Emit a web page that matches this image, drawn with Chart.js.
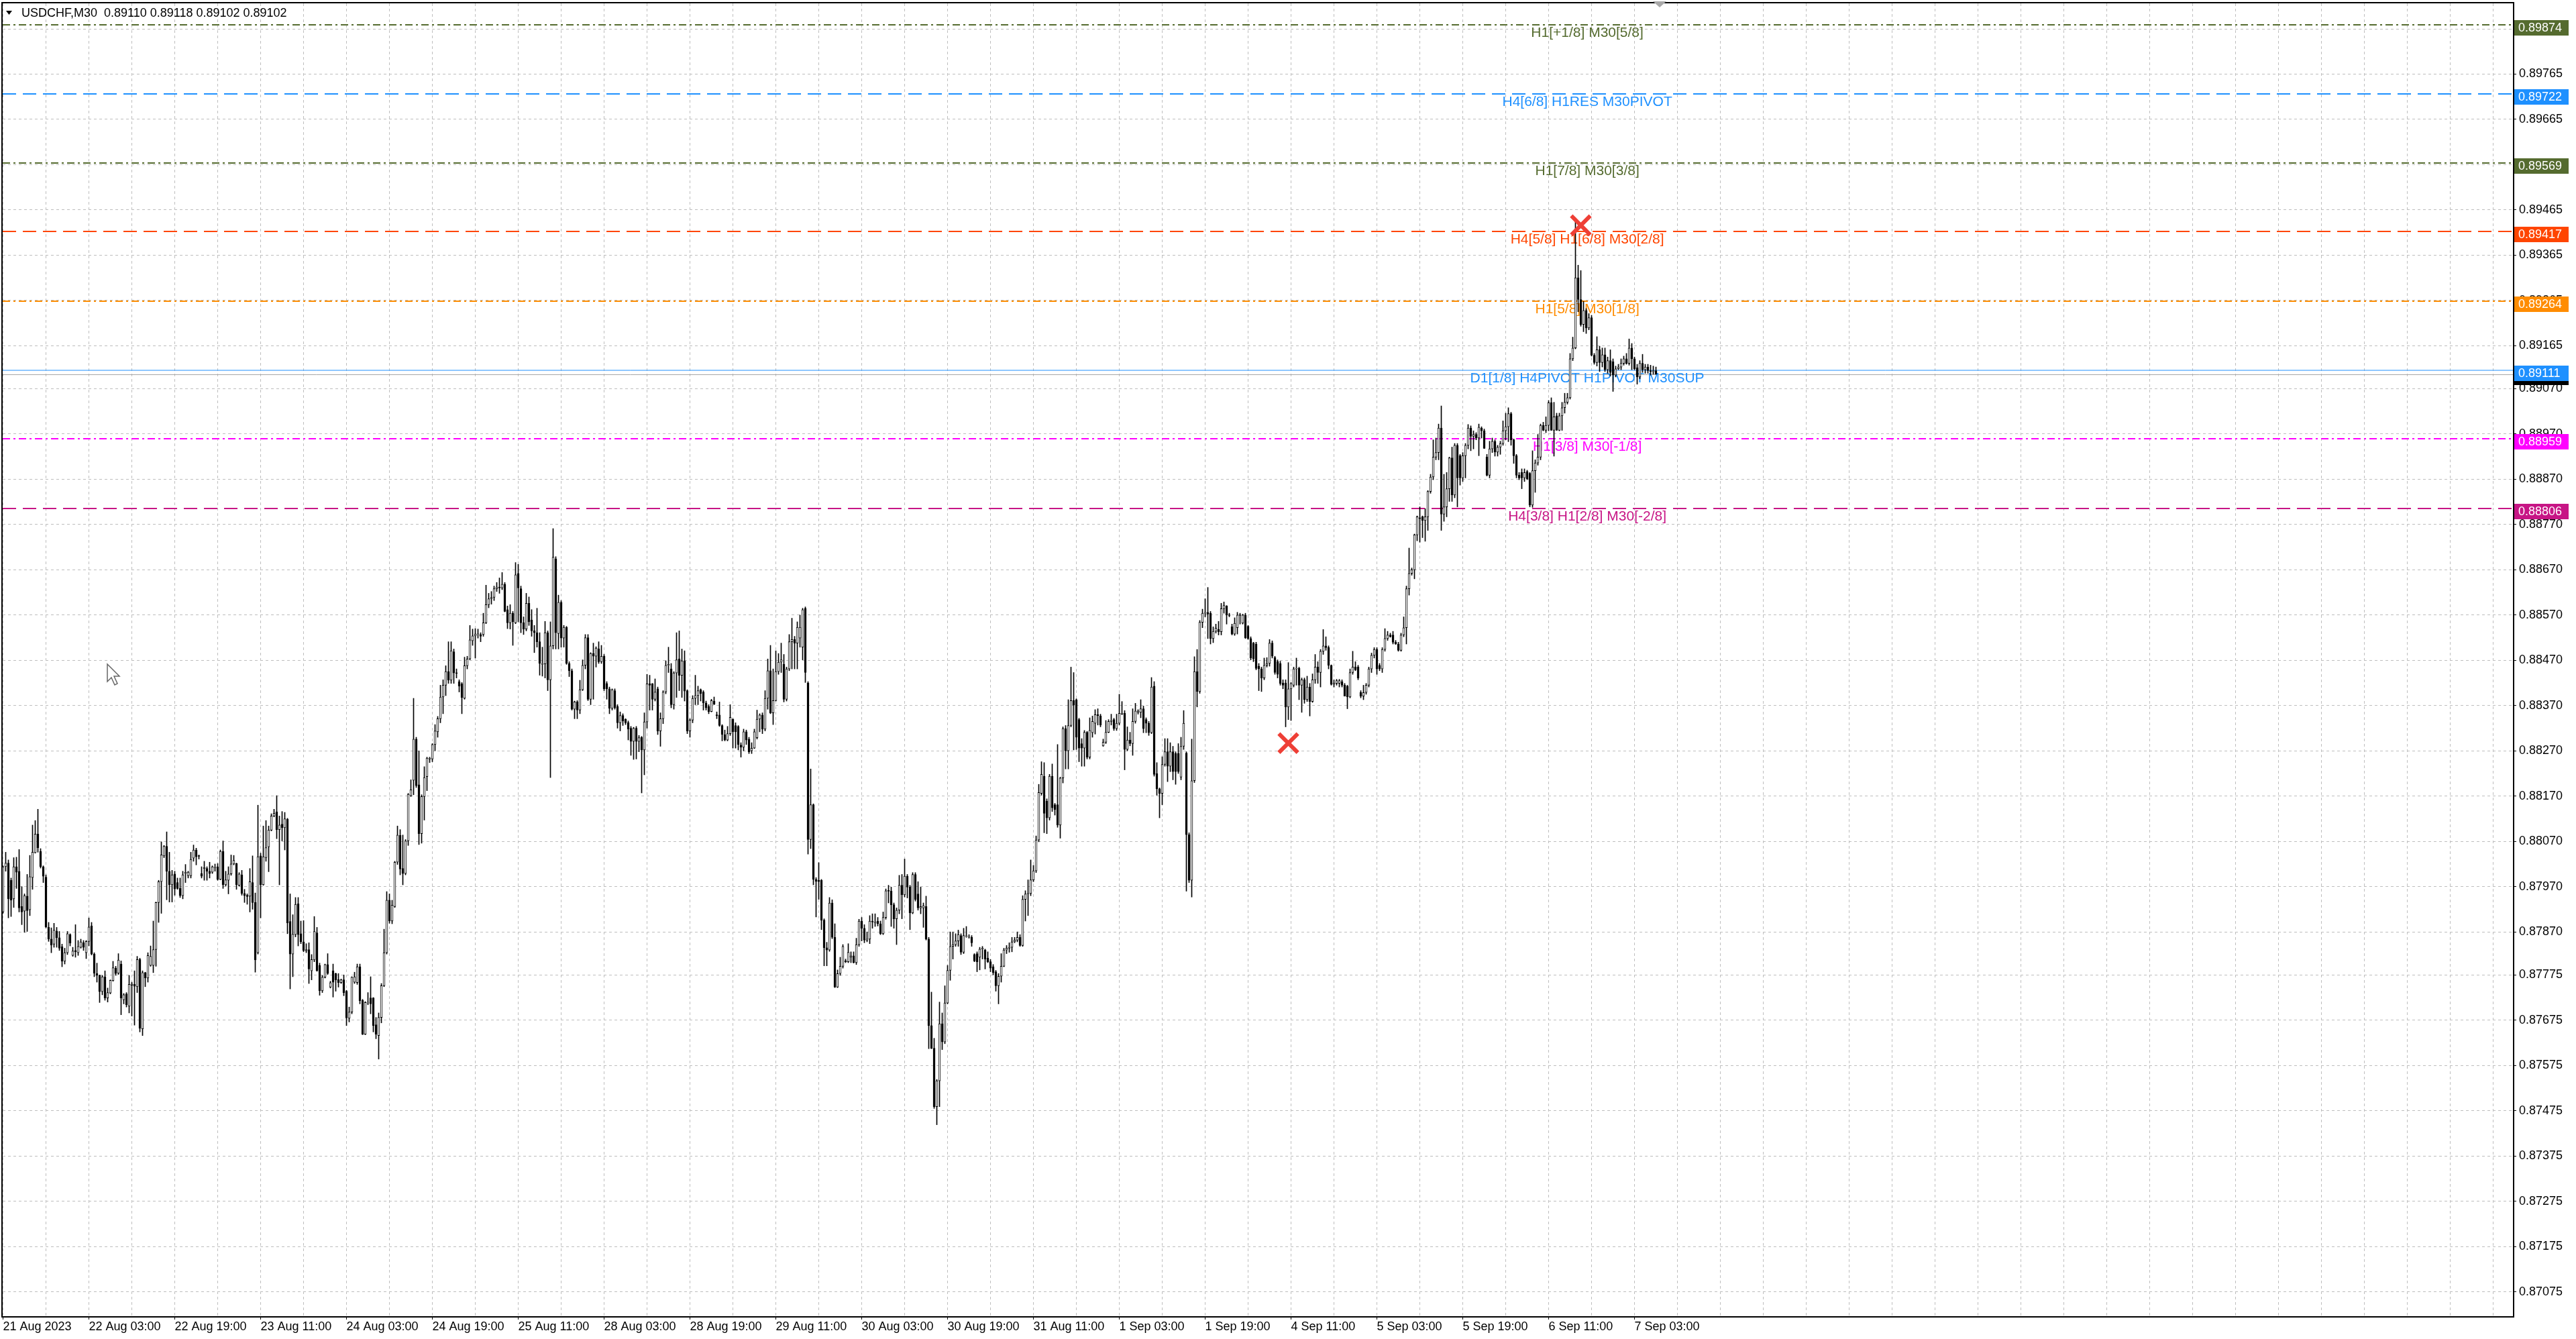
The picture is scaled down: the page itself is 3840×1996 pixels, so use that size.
<!DOCTYPE html>
<html>
<head>
<meta charset="utf-8">
<title>USDCHF,M30</title>
<script src="https://cdn.jsdelivr.net/npm/chart.js@4.4.1/dist/chart.umd.min.js"></script>
<style>
  html, body { margin: 0; padding: 0; background: #fff; overflow: hidden; }
  #chart { display: block; }
</style>
</head>
<body>
<canvas id="chart" width="3840" height="1996"></canvas>
<script>
// USDCHF M30, first bar 21 Aug 2023 11:00, last bar 7 Sep 2023 07:00
// prices in points (1 point = 0.00001)
const barOpen = [
  87914,88014,88022,87984,87943,88014,88004,87926,87916,87949,
  87919,87990,88045,88086,88048,88014,87991,87880,87854,87843,
  87872,87857,87837,87805,87824,87864,87818,87829,87824,87836,
  87846,87824,87849,87883,87821,87778,87774,87738,87771,87724,
  87735,87762,87790,87779,87799,87720,87733,87706,87752,87754,
  87749,87809,87656,87780,87768,87796,87796,87831,87935,87981,
  88038,88059,88004,87974,87998,87979,87966,87950,87999,87994,
  87994,88033,88051,88038,87999,88010,88010,88004,88002,88012,
  88014,87986,88048,87974,87984,87998,88020,88021,87973,87996,
  87955,87951,87949,87979,87935,87824,88038,87974,88034,88058,
  88095,88126,88135,88096,88108,88100,88119,87893,87821,87864,
  87932,87866,87848,87828,87831,87784,87808,87868,87796,87740,
  87770,87798,87748,87784,87778,87765,87758,87764,87739,87679,
  87693,87759,87758,87793,87719,87644,87713,87724,87724,87665,
  87641,87681,87751,87824,87940,87894,87926,88024,88083,88010,
  87999,88071,88171,88205,88296,88195,88087,88169,88213,88252,
  88252,88284,88312,88341,88389,88415,88445,88426,88489,88442,
  88423,88418,88386,88458,88473,88513,88524,88527,88527,88527,
  88553,88593,88606,88609,88628,88632,88630,88638,88582,88553,
  88574,88553,88662,88628,88553,88539,88596,88559,88535,88531,
  88511,88461,88462,88531,88427,88502,88694,88529,88598,88519,
  88543,88463,88447,88362,88378,88360,88405,88459,88520,88384,
  88485,88479,88495,88467,88479,88419,88407,88364,88403,88368,
  88332,88348,88340,88332,88320,88291,88320,88291,88300,88272,
  88334,88418,88418,88384,88407,88314,88341,88400,88459,88451,
  88372,88442,88473,88437,88469,88403,88314,88338,88386,88392,
  88405,88400,88376,88368,88357,88380,88349,88349,88326,88306,
  88294,88308,88340,88326,88324,88283,88278,88312,88296,88270,
  88276,88299,88340,88349,88318,88386,88447,88354,88381,88445,
  88466,88461,88384,88451,88511,88516,88508,88519,88499,88585,
  88420,88074,88151,87986,87984,87984,87896,87835,87830,87934,
  87858,87748,87778,87794,87806,87804,87814,87817,87802,87842,
  87894,87878,87852,87854,87894,87890,87894,87888,87866,87902,
  87961,87960,87930,87899,87918,87973,87952,87993,87969,87912,
  87997,87954,87923,87923,87926,87854,87663,87613,87484,87541,
  87667,87627,87713,87785,87838,87842,87850,87862,87825,87860,
  87858,87858,87820,87822,87814,87832,87830,87812,87804,87793,
  87782,87751,87772,87794,87830,87834,87836,87848,87852,87858,
  87840,87942,87954,87955,87985,88005,88073,88176,88214,88159,
  88122,88214,88151,88151,88106,88210,88319,88270,88326,88381,
  88383,88339,88286,88276,88311,88256,88310,88331,88350,88347,
  88281,88289,88311,88335,88339,88319,88331,88351,88353,88273,
  88294,88286,88335,88355,88355,88363,88339,88331,88310,88413,
  88220,88186,88176,88240,88268,88236,88268,88264,88264,88212,
  88280,88265,88085,87984,88204,88445,88401,88554,88574,88576,
  88574,88518,88534,88538,88533,88584,88590,88570,88544,88528,
  88542,88570,88552,88570,88545,88518,88508,88506,88457,88451,
  88431,88459,88463,88508,88476,88467,88463,88420,88420,88367,
  88407,88415,88451,88452,88415,88427,88383,88411,88379,88427,
  88455,88443,88490,88502,88498,88459,88417,88419,88419,88423,
  88415,88413,88389,88443,88455,88455,88399,88391,88399,88415,
  88451,88481,88494,88459,88451,88494,88518,88526,88526,88510,
  88506,88492,88526,88542,88628,88662,88670,88747,88785,88787,
  88779,88787,88843,88875,88919,88929,88983,88793,88809,88849,
  88917,88835,88945,88922,88873,88922,88945,88983,88965,88969,
  88961,88983,88977,88919,88879,88937,88954,88930,88941,88949,
  88977,88986,89015,88957,88922,88879,88885,88873,88887,88883,
  88813,88889,88906,88919,88989,88978,88989,89039,88978,89010,
  88978,89010,89028,89040,89050,89136,89160,89315,89267,89212,
  89243,89204,89227,89144,89128,89156,89128,89145,89112,89132,
  89130,89100,89114,89118,89126,89136,89126,89160,89136,89116,
  89096,89126,89112,89118,89110,89108,89110
];
const barHigh = [
  88016,88046,88029,87989,88034,88035,88052,87970,87954,87997,
  88039,88106,88116,88141,88054,88016,87996,87891,87879,87889,
  87880,87871,87843,87834,87871,87866,87836,87886,87851,87854,
  87851,87851,87901,87891,87824,87801,87775,87774,87784,87746,
  87764,87805,87794,87822,87806,87734,87736,87774,87759,87784,
  87816,87812,87784,87781,87824,87839,87894,87936,87984,88069,
  88061,88091,88046,88006,88004,87989,87989,88004,88019,88004,
  88046,88062,88055,88040,88014,88026,88014,88024,88016,88020,
  88021,88051,88071,88004,88014,88040,88039,88022,88001,88006,
  87964,87954,88010,88038,87956,88150,88044,88104,88116,88104,
  88131,88141,88171,88126,88136,88134,88121,87954,87908,87946,
  87946,87894,87895,87844,87846,87820,87904,87880,87801,87774,
  87799,87822,87761,87799,87779,87778,87766,87775,87741,87704,
  87771,87781,87799,87799,87721,87716,87736,87771,87725,87681,
  87691,87756,87876,87959,87954,87940,88026,88104,88096,88084,
  88074,88176,88206,88386,88300,88270,88173,88235,88256,88256,
  88286,88328,88346,88415,88427,88458,88511,88511,88495,88451,
  88427,88421,88477,88479,88547,88539,88540,88539,88531,88574,
  88636,88618,88622,88634,88642,88652,88664,88642,88590,88593,
  88578,88686,88682,88634,88566,88618,88610,88582,88547,88585,
  88531,88499,88556,88535,88555,88761,88699,88614,88602,88547,
  88545,88467,88451,88380,88381,88426,88471,88527,88527,88487,
  88508,88500,88511,88503,88483,88423,88411,88407,88407,88372,
  88356,88352,88341,88336,88324,88322,88324,88304,88302,88354,
  88439,88437,88419,88429,88411,88354,88403,88469,88499,88463,
  88445,88531,88535,88495,88491,88405,88341,88392,88437,88413,
  88407,88403,88380,88372,88384,88389,88356,88378,88328,88316,
  88324,88372,88341,88332,88326,88288,88318,88316,88300,88288,
  88318,88360,88352,88354,88403,88473,88503,88451,88491,88485,
  88508,88483,88455,88527,88563,88523,88555,88570,88585,88588,
  88423,88230,88153,87990,88023,87986,87899,87847,87946,87941,
  87888,87786,87814,87842,87810,87844,87826,87826,87856,87898,
  87902,87886,87870,87906,87910,87910,87902,87894,87914,87965,
  87973,87969,87934,87923,87995,87997,88031,87997,87973,88001,
  88001,87981,87969,87934,87949,87858,87737,87635,87544,87715,
  87691,87751,87796,87870,87870,87866,87874,87866,87878,87882,
  87864,87862,87822,87826,87836,87838,87832,87826,87809,87798,
  87785,87778,87822,87834,87840,87846,87858,87858,87870,87864,
  87950,87961,87985,88029,88017,88082,88196,88246,88244,88164,
  88218,88241,88154,88284,88212,88323,88326,88383,88455,88443,
  88385,88342,88297,88315,88313,88343,88347,88361,88363,88351,
  88296,88337,88339,88351,88342,88351,88395,88379,88359,88323,
  88311,88363,88375,88361,88383,88369,88343,88335,88432,88423,
  88244,88188,88257,88297,88297,88288,88280,88268,88286,88300,
  88359,88268,88089,88296,88478,88494,88558,88583,88606,88631,
  88578,88544,88550,88556,88596,88599,88591,88574,88550,88564,
  88576,88574,88572,88574,88547,88522,88510,88510,88463,88455,
  88475,88476,88516,88513,88479,88471,88468,88427,88427,88465,
  88421,88455,88475,88455,88431,88431,88435,88419,88440,88483,
  88467,88494,88538,88522,88502,88460,88427,88428,88428,88427,
  88419,88415,88451,88490,88467,88459,88403,88415,88419,88455,
  88486,88498,88498,88463,88498,88540,88534,88530,88534,88514,
  88510,88530,88566,88634,88718,88674,88749,88789,88809,88789,
  88805,88845,88881,88957,88961,88992,89032,88881,88885,88919,
  88941,88949,88949,88925,88929,88949,88991,88988,88977,88973,
  88992,88986,88981,88925,88954,88961,88957,88945,88954,88999,
  89016,89028,89018,88959,88925,88885,88893,88893,88890,88885,
  88933,88913,88969,88992,88996,89008,89044,89050,89040,89016,
  89016,89040,89060,89060,89148,89184,89447,89343,89331,89263,
  89247,89236,89232,89148,89185,89164,89160,89160,89140,89156,
  89136,89120,89124,89136,89142,89148,89180,89170,89140,89124,
  89132,89146,89124,89124,89122,89120,89118
];
const barLow = [
  87911,88004,87901,87904,87924,87966,87914,87886,87869,87871,
  87906,87964,88044,88046,88011,87979,87879,87849,87824,87836,
  87836,87829,87793,87799,87820,87839,87816,87814,87818,87834,
  87829,87811,87839,87819,87771,87759,87714,87731,87719,87715,
  87733,87761,87774,87776,87687,87711,87704,87691,87684,87664,
  87736,87649,87641,87749,87759,87794,87780,87794,87891,87911,
  88034,87941,87936,87936,87951,87964,87946,87943,87979,87989,
  87989,88026,88018,88031,87989,87984,87984,87989,87999,88004,
  87984,87985,87966,87971,87954,87995,88018,87964,87971,87951,
  87935,87931,87914,87920,87781,87821,87901,87973,88026,88003,
  88093,88124,88076,87974,88071,88051,87866,87744,87771,87859,
  87839,87844,87826,87824,87756,87764,87804,87783,87730,87736,
  87768,87776,87746,87726,87739,87748,87756,87729,87663,87671,
  87689,87756,87754,87711,87643,87643,87709,87689,87649,87634,
  87589,87669,87749,87821,87889,87888,87924,88019,87996,87974,
  87996,88061,88169,88173,88189,88063,88066,88117,88182,88244,
  88246,88270,88300,88332,88352,88392,88419,88419,88419,88431,
  88400,88352,88384,88451,88471,88503,88475,88519,88511,88523,
  88551,88586,88594,88602,88622,88618,88626,88577,88540,88539,
  88503,88551,88555,88531,88527,88535,88547,88523,88487,88499,
  88437,88435,88431,88403,88211,88495,88495,88495,88499,88499,
  88461,88434,88360,88341,88341,88352,88403,88451,88381,88372,
  88384,88455,88463,88463,88403,88384,88352,88360,88362,88320,
  88314,88326,88328,88294,88260,88251,88252,88268,88177,88217,
  88320,88360,88360,88380,88306,88280,88330,88396,88443,88365,
  88362,88388,88403,88388,88380,88308,88300,88332,88372,88372,
  88380,88360,88360,88352,88356,88372,88341,88324,88292,88292,
  88292,88304,88276,88276,88272,88256,88270,88284,88264,88264,
  88275,88296,88312,88308,88314,88362,88352,88328,88380,88439,
  88443,88378,88380,88447,88451,88451,88451,88499,88471,88421,
  88042,88054,87974,87903,87942,87875,87795,87795,87827,87855,
  87747,87747,87774,87790,87802,87802,87802,87801,87798,87838,
  87850,87846,87848,87844,87878,87882,87883,87864,87864,87898,
  87934,87882,87878,87842,87910,87899,87947,87945,87875,87910,
  87938,87918,87910,87880,87852,87612,87612,87480,87444,87484,
  87610,87623,87711,87763,87810,87838,87838,87820,87822,87858,
  87856,87838,87804,87782,87786,87810,87788,87802,87782,87775,
  87739,87711,87759,87793,87822,87825,87826,87846,87848,87838,
  87838,87894,87906,87950,87981,88001,88069,88172,88089,88087,
  88117,88136,88128,88101,88077,88199,88230,88230,88323,88272,
  88273,88246,88236,88236,88252,88252,88300,88307,88327,88323,
  88280,88286,88310,88327,88315,88315,88327,88350,88228,88270,
  88281,88260,88331,88351,88343,88310,88310,88304,88308,88214,
  88172,88122,88151,88236,88202,88224,88206,88196,88220,88206,
  88273,87960,87979,87947,88200,88367,88397,88542,88566,88518,
  88506,88509,88530,88526,88526,88574,88550,88566,88526,88525,
  88528,88550,88550,88518,88516,88471,88467,88449,88403,88401,
  88427,88455,88457,88475,88439,88431,88415,88407,88323,88339,
  88337,88411,88415,88383,88355,88375,88379,88347,88377,88419,
  88419,88411,88483,88492,88451,88415,88411,88415,88411,88411,
  88391,88363,88387,88439,88447,88427,88387,88383,88395,88411,
  88443,88475,88439,88447,88443,88490,88514,88521,88506,88505,
  88490,88490,88522,88506,88614,88658,88650,88734,88731,88741,
  88733,88757,88839,88869,88913,88913,88757,88777,88787,88821,
  88821,88829,88809,88857,88865,88873,88937,88933,88937,88957,
  88922,88961,88938,88877,88873,88929,88921,88921,88925,88945,
  88957,88953,88945,88905,88873,88869,88849,88865,88869,88809,
  88808,88841,88901,88913,88977,88973,88977,88978,88921,88978,
  88977,88978,89016,89036,89047,89132,89158,89240,89208,89196,
  89192,89200,89142,89124,89120,89108,89118,89108,89104,89098,
  89064,89096,89112,89112,89122,89124,89122,89112,89112,89080,
  89092,89106,89104,89104,89100,89102,89102
];
const barClose = [
  88014,88022,87943,87940,88014,88002,87923,87914,87950,87917,
  87992,88046,88086,88056,88014,87993,87881,87854,87841,87874,
  87857,87834,87805,87824,87866,87845,87828,87826,87838,87848,
  87836,87849,87881,87821,87779,87774,87738,87771,87724,87736,
  87763,87791,87778,87808,87724,87731,87709,87754,87755,87750,
  87809,87657,87780,87768,87818,87816,87831,87935,87981,88040,
  88059,88004,87974,87996,87965,87966,87950,87996,88002,88002,
  88030,88051,88036,88037,87993,88012,88004,87999,88014,88014,
  87986,88048,87974,87985,87998,88020,88028,87974,87998,87955,
  87950,87948,87981,87935,87808,88036,87974,88036,88056,88095,
  88126,88132,88096,88106,88100,88120,87890,87821,87865,87931,
  87864,87848,87829,87831,87788,87809,87871,87784,87740,87770,
  87798,87778,87758,87759,87764,87758,87764,87736,87680,87693,
  87770,87771,87793,87718,87644,87714,87715,87711,87663,87644,
  87681,87751,87824,87940,87894,87929,88024,88084,88009,87999,
  88071,88174,88184,88296,88193,88087,88169,88211,88254,88254,
  88284,88314,88341,88389,88415,88445,88426,88491,88442,88441,
  88413,88388,88458,88473,88515,88524,88528,88528,88523,88553,
  88593,88606,88609,88628,88632,88630,88638,88578,88553,88574,
  88555,88659,88630,88553,88539,88596,88555,88535,88531,88511,
  88463,88462,88531,88427,88502,88698,88531,88598,88519,88543,
  88463,88447,88362,88378,88360,88405,88459,88520,88384,88485,
  88479,88497,88467,88479,88407,88407,88364,88405,88365,88332,
  88348,88336,88332,88318,88291,88320,88291,88299,88272,88334,
  88418,88415,88384,88400,88314,88341,88400,88459,88461,88372,
  88442,88471,88437,88469,88402,88314,88338,88386,88392,88403,
  88397,88376,88365,88357,88381,88373,88348,88326,88306,88294,
  88308,88344,88312,88312,88284,88278,88312,88294,88268,88276,
  88312,88340,88349,88318,88386,88447,88354,88381,88445,88466,
  88471,88384,88451,88511,88516,88508,88543,88543,88582,88443,
  88074,88151,87986,87982,87981,87896,87835,87830,87934,87858,
  87748,87778,87794,87838,87804,87825,87817,87802,87842,87894,
  87878,87852,87854,87894,87892,87891,87888,87866,87902,87961,
  87960,87930,87899,87918,87973,87952,87993,87969,87912,87997,
  87942,87923,87926,87928,87854,87663,87613,87484,87541,87667,
  87627,87713,87785,87838,87842,87850,87864,87825,87862,87860,
  87860,87846,87806,87804,87832,87834,87810,87804,87790,87780,
  87751,87772,87794,87830,87834,87836,87848,87852,87858,87840,
  87942,87954,87955,87985,88005,88073,88178,88218,88132,88122,
  88214,88144,88140,88106,88210,88319,88270,88326,88381,88371,
  88300,88276,88276,88311,88256,88315,88335,88350,88348,88327,
  88289,88311,88335,88337,88319,88331,88353,88353,88273,88294,
  88286,88335,88358,88358,88363,88319,88331,88310,88411,88218,
  88186,88176,88240,88268,88236,88268,88224,88224,88224,88280,
  88331,88085,87984,88204,88445,88401,88554,88574,88576,88572,
  88518,88534,88541,88533,88584,88591,88570,88569,88528,88552,
  88570,88569,88570,88520,88518,88475,88473,88452,88451,88431,
  88459,88463,88508,88479,88443,88439,88419,88415,88367,88407,
  88419,88451,88452,88415,88427,88383,88411,88379,88427,88455,
  88443,88490,88502,88498,88459,88417,88420,88425,88425,88415,
  88391,88389,88443,88455,88449,88431,88391,88399,88415,88451,
  88481,88494,88451,88451,88494,88518,88526,88522,88510,88506,
  88492,88526,88542,88628,88662,88670,88747,88787,88783,88779,
  88787,88843,88875,88919,88929,88983,88793,88809,88849,88917,
  88835,88945,88873,88873,88922,88945,88983,88965,88969,88961,
  88985,88977,88938,88879,88937,88954,88930,88941,88949,88977,
  88986,89015,88957,88922,88879,88873,88873,88885,88871,88813,
  88889,88906,88919,88989,88978,88989,89039,88978,89008,88978,
  89010,89028,89040,89050,89136,89160,89315,89267,89212,89243,
  89204,89227,89144,89128,89156,89128,89145,89112,89132,89106,
  89100,89114,89118,89126,89136,89126,89160,89136,89114,89096,
  89126,89112,89118,89110,89108,89110,89102
];

// time axis: one label every 32 bars (16 hours), from bar 0
const timeLabels = [
  '21 Aug 2023', '22 Aug 03:00', '22 Aug 19:00', '23 Aug 11:00', '24 Aug 03:00',
  '24 Aug 19:00', '25 Aug 11:00', '28 Aug 03:00', '28 Aug 19:00', '29 Aug 11:00',
  '30 Aug 03:00', '30 Aug 19:00', '31 Aug 11:00', '1 Sep 03:00', '1 Sep 19:00',
  '4 Sep 11:00', '5 Sep 03:00', '5 Sep 19:00', '6 Sep 11:00', '7 Sep 03:00'
];
const priceTickLabels = [
  '0.89865', '0.89765', '0.89665', '0.89565', '0.89465', '0.89365', '0.89265',
  '0.89165', '0.89070', '0.88970', '0.88870', '0.88770', '0.88670', '0.88570',
  '0.88470', '0.88370', '0.88270', '0.88170', '0.88070', '0.87970', '0.87870',
  '0.87775', '0.87675', '0.87575', '0.87475', '0.87375', '0.87275', '0.87175', '0.87075'
];

// murrey math levels drawn by the indicator
const levelPrices = [0.89874, 0.89722, 0.89569, 0.89417, 0.89264, 0.89111, 0.88959, 0.88806];
const levelNames = [
  'H1[+1/8] M30[5/8]',
  'H4[6/8] H1RES M30PIVOT',
  'H1[7/8] M30[3/8]',
  'H4[5/8] H1[6/8] M30[2/8]',
  'H1[5/8] M30[1/8]',
  'D1[1/8] H4PIVOT H1PIVOT M30SUP',
  'H1[3/8] M30[-1/8]',
  'H4[3/8] H1[2/8] M30[-2/8]'
];
const bidPrice = 0.89102;
const headerText = 'USDCHF,M30  0.89110 0.89118 0.89102 0.89102';

// swing marks (bar index, price)
const markBars = [588, 479];
const markPrices = [0.89431, 0.88287];

// ---- styles / layout ----
const FONT = '"Liberation Sans", Arial, sans-serif';
const DASHDOT = [11, 5, 3, 5];
const DASHED = [20, 10];
const levelStyle = [
  { color: '#556B2F', dash: DASHDOT },
  { color: '#1E90FF', dash: DASHED },
  { color: '#556B2F', dash: DASHDOT },
  { color: '#FF4500', dash: DASHED },
  { color: '#FF8C00', dash: DASHDOT },
  { color: '#1E90FF', dash: [] },
  { color: '#FF00FF', dash: DASHDOT },
  { color: '#C71585', dash: DASHED }
];
const labelBar = 590.4;   // where the level captions are centred

const pt = v => v / 100000;
const bodies = barOpen.map((o, i) => ({ x: i, y: [pt(o), pt(barClose[i])] }));
const wicks = barOpen.map((o, i) => ({
  x: i,
  y: [pt(Math.min(barLow[i], o, barClose[i])), pt(Math.max(barHigh[i], o, barClose[i]))]
}));
const marks = markBars.map((b, i) => ({ x: b, y: markPrices[i] }));

const noPad = s => { s.paddingLeft = 0; s.paddingRight = 0; s.paddingTop = 0; s.paddingBottom = 0; };

const overlay = {
  id: 'overlay',
  beforeDatasetsDraw(chart) {
    const { ctx, chartArea: a, scales: { x, y } } = chart;
    ctx.save();
    ctx.beginPath();
    ctx.rect(a.left, a.top, a.right - a.left, a.bottom - a.top);
    ctx.clip();

    // bid line
    const yb = Math.round(y.getPixelForValue(bidPrice)) + 0.5;
    ctx.strokeStyle = '#A8A8A8';
    ctx.lineWidth = 1;
    ctx.beginPath(); ctx.moveTo(a.left, yb); ctx.lineTo(a.right, yb); ctx.stroke();

    levelPrices.forEach((p, i) => {
      const st = levelStyle[i];
      const py = Math.round(y.getPixelForValue(p));
      ctx.strokeStyle = st.color;
      ctx.lineWidth = st.dash.length ? 2 : 1;
      ctx.setLineDash(st.dash);
      ctx.beginPath(); ctx.moveTo(a.left, py); ctx.lineTo(a.right, py); ctx.stroke();
    });
    ctx.setLineDash([]);

    ctx.font = '21px ' + FONT;
    ctx.textAlign = 'center';
    ctx.textBaseline = 'middle';
    const lx = x.getPixelForValue(labelBar);
    levelPrices.forEach((p, i) => {
      ctx.fillStyle = levelStyle[i].color;
      ctx.fillText(levelNames[i], lx, Math.round(y.getPixelForValue(p)) + 12);
    });
    ctx.restore();
  },
  afterDraw(chart) {
    const { ctx, chartArea: a, scales: { y } } = chart;
    ctx.save();

    // frame
    ctx.strokeStyle = '#000';
    ctx.lineWidth = 2;
    ctx.strokeRect(a.left - 1, a.top - 1, a.right - a.left + 2, a.bottom - a.top + 2);

    // price tags on the axis
    const tag = (price, color) => {
      const py = Math.round(y.getPixelForValue(price));
      ctx.fillStyle = color;
      ctx.fillRect(a.right + 2, py - 7, 81, 23);
      ctx.fillStyle = '#fff';
      ctx.font = '18px ' + FONT;
      ctx.textAlign = 'left';
      ctx.textBaseline = 'middle';
      ctx.fillText(price.toFixed(5), a.right + 8, py + 5);
    };
    tag(bidPrice, '#000');
    levelPrices.forEach((p, i) => tag(p, levelStyle[i].color));

    // header
    ctx.fillStyle = '#000';
    ctx.beginPath();
    ctx.moveTo(9, 16); ctx.lineTo(18, 16); ctx.lineTo(13.5, 22); ctx.closePath();
    ctx.fill();
    ctx.font = '18px ' + FONT;
    ctx.textAlign = 'left';
    ctx.textBaseline = 'middle';
    ctx.fillText(headerText, 32, 20);

    // chart-shift marker
    ctx.fillStyle = '#A9A9A9';
    ctx.beginPath();
    ctx.moveTo(2464, 2); ctx.lineTo(2484, 2); ctx.lineTo(2474, 11); ctx.closePath();
    ctx.fill();

    // mouse pointer
    ctx.fillStyle = '#fff';
    ctx.strokeStyle = '#666';
    ctx.lineWidth = 1.5;
    ctx.beginPath();
    ctx.moveTo(160, 990); ctx.lineTo(160, 1016); ctx.lineTo(166, 1010);
    ctx.lineTo(171, 1021); ctx.lineTo(175, 1019); ctx.lineTo(170, 1008);
    ctx.lineTo(178, 1008); ctx.closePath();
    ctx.fill(); ctx.stroke();
    ctx.restore();
  }
};

new Chart(document.getElementById('chart'), {
  type: 'bar',
  data: {
    datasets: [
      {
        type: 'scatter',
        data: marks,
        pointStyle: 'crossRot',
        radius: 20,
        borderWidth: 6,
        borderColor: '#EE3F36',
        backgroundColor: '#EE3F36',
        order: 1
      },
      {
        data: bodies,
        barThickness: 3,
        borderWidth: 1,
        borderColor: '#000',
        borderSkipped: false,
        minBarLength: 1,
        grouped: false,
        backgroundColor: c => (barClose[c.dataIndex] >= barOpen[c.dataIndex] ? '#fff' : '#000'),
        order: 2
      },
      {
        data: wicks,
        barThickness: 1,
        borderWidth: 0,
        grouped: false,
        backgroundColor: '#000',
        order: 3
      }
    ]
  },
  options: {
    responsive: false,
    devicePixelRatio: 1,
    animation: false,
    events: [],
    layout: { autoPadding: false, padding: { left: 4, top: 5, right: 0, bottom: 0 } },
    plugins: { legend: { display: false }, tooltip: { enabled: false } },
    scales: {
      x: {
        type: 'linear',
        min: -0.125,
        max: 935.375,
        offset: false,
        afterFit: s => { s.height = 34; noPad(s); },
        afterBuildTicks: s => {
          const t = [];
          for (let v = 0; v <= 928; v += 16) t.push({ value: v });
          s.ticks = t;
        },
        grid: {
          offset: false,
          color: '#BEBEBE',
          lineWidth: 1,
          tickLength: 5,
          tickColor: c => (c.index % 2 === 0 && c.index / 2 < timeLabels.length ? '#000' : 'rgba(0,0,0,0)')
        },
        border: { display: false, dash: [4, 4] },
        ticks: {
          autoSkip: false,
          maxRotation: 0,
          minRotation: 0,
          align: 'start',
          padding: 0,
          color: '#000',
          font: { family: FONT, size: 18 },
          callback: (v, i) => (i % 2 === 0 ? (timeLabels[i / 2] || '') : '')
        }
      },
      y: {
        type: 'linear',
        position: 'right',
        min: 0.8702103,
        max: 0.8992135,
        beginAtZero: false,
        afterFit: s => { s.width = 94; noPad(s); },
        afterBuildTicks: s => {
          s.ticks = priceTickLabels.map(l => ({ value: parseFloat(l) }));
        },
        grid: { color: '#BEBEBE', lineWidth: 1, tickLength: 5, tickColor: '#000' },
        border: { display: false, dash: [4, 4] },
        ticks: {
          autoSkip: false,
          padding: 4,
          color: '#000',
          font: { family: FONT, size: 18 },
          callback: (v, i) => priceTickLabels[i]
        }
      }
    }
  },
  plugins: [overlay]
});
</script>
</body>
</html>
